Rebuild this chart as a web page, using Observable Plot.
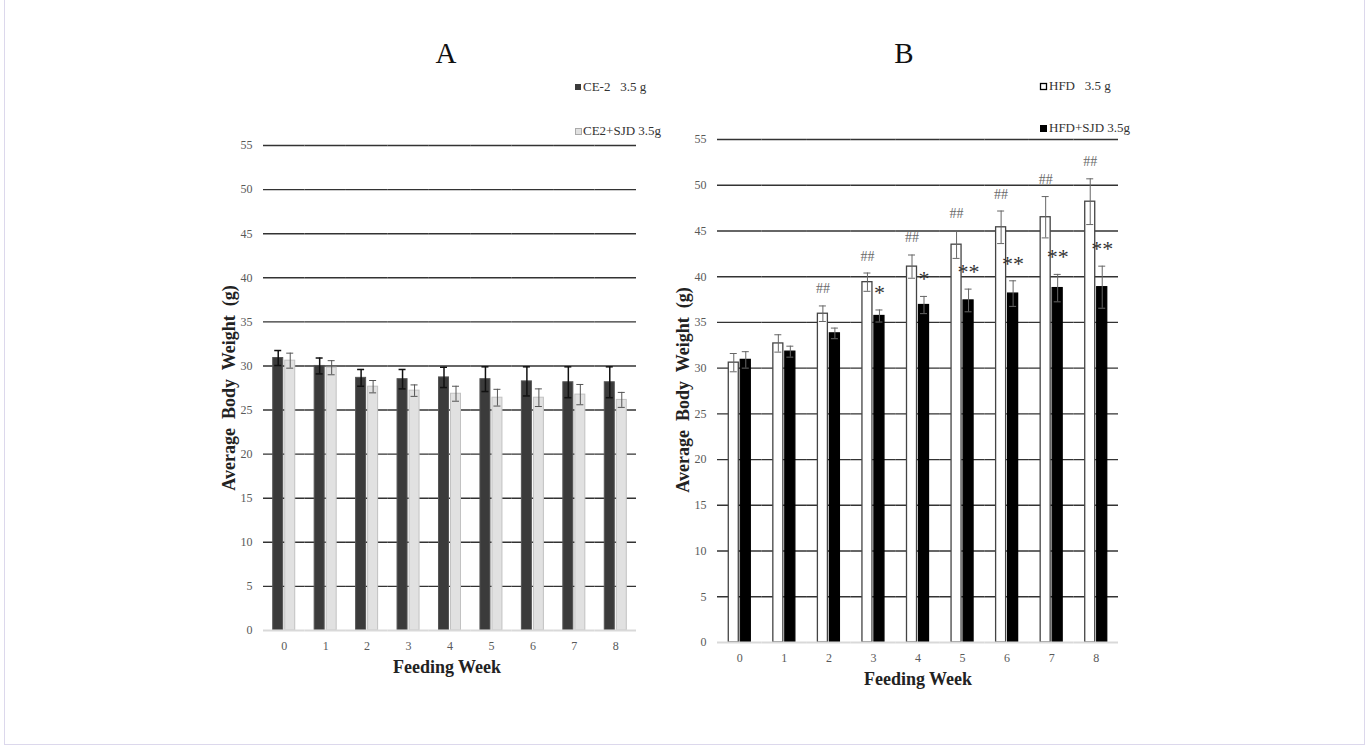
<!DOCTYPE html>
<html>
<head>
<meta charset="utf-8">
<script src="https://cdn.jsdelivr.net/npm/d3@7"></script>
<script src="https://cdn.jsdelivr.net/npm/@observablehq/plot@0.6"></script>
<style>
  html, body { margin: 0; padding: 0; background: #fff; }
  #wrap { position: relative; width: 1370px; height: 753px; overflow: hidden; font-family: "Liberation Serif", "Times New Roman", serif; }
  #wrap > svg, #wrap > figure { position: absolute; margin: 0; }
  #frame { position: absolute; left: 4px; top: -1px; width: 1361px; height: 746px; border: 1px solid #dcd8ec; box-sizing: border-box; }
  .pre { white-space: pre; }
</style>
</head>
<body>
<div id="wrap"><div id="frame"></div></div>
<script>
// ---------- data ----------
const weeks = [0, 1, 2, 3, 4, 5, 6, 7, 8];
const yTicks = [0, 5, 10, 15, 20, 25, 30, 35, 40, 45, 50, 55];

// Panel A
const seriesA = ["CE-2   3.5 g", "CE2+SJD 3.5g"];
const ce2Mean = [30.9, 30.0, 28.65, 28.5, 28.7, 28.5, 28.25, 28.15, 28.15];
const ce2Sd = [0.85, 0.9, 0.95, 1.1, 1.15, 1.4, 1.65, 1.75, 1.75];
const ce2sjdMean = [30.6, 29.8, 27.65, 27.2, 26.85, 26.4, 26.4, 26.75, 26.15];
const ce2sjdSd = [0.85, 0.8, 0.7, 0.65, 0.85, 0.95, 1.0, 1.15, 0.85];

// Panel B
const seriesB = ["HFD   3.5 g", "HFD+SJD 3.5g"];
const hfdMean = [30.6, 32.7, 35.95, 39.4, 41.1, 43.5, 45.4, 46.5, 48.2];
const hfdSd = [1.0, 0.95, 0.85, 1.0, 1.27, 1.5, 1.78, 2.26, 2.5];
const hfdsjdMean = [30.9, 31.8, 33.8, 35.7, 36.9, 37.4, 38.15, 38.75, 38.85];
const hfdsjdSd = [0.9, 0.6, 0.58, 0.66, 0.94, 1.24, 1.4, 1.5, 2.3];
const hashMarks = ["", "", "##", "##", "##", "##", "##", "##", "##"];
const starMarks = ["", "", "", "*", "*", "**", "**", "**", "**"];

// ---------- helpers ----------
function rows(groups, means, sds) {
  const out = [];
  weeks.forEach((w, i) => {
    out.push({week: w, group: groups[0], mean: means[0][i], sd: sds[0][i], s: 0});
    out.push({week: w, group: groups[1], mean: means[1][i], sd: sds[1][i], s: 1});
  });
  return out;
}

const serif = "Liberation Serif, Times New Roman, serif";

function panel(cfg) {
  const data = cfg.data;
  return Plot.plot({
    width: cfg.width, height: cfg.height,
    marginLeft: cfg.mL, marginRight: cfg.mR, marginTop: cfg.mT, marginBottom: cfg.mB,
    style: {fontFamily: serif, fontSize: "12px", color: "#595959", background: "transparent", overflow: "visible"},
    fx: {domain: weeks, padding: 0, round: false, label: null, axis: "bottom", tickSize: 0, tickPadding: 11},
    x: {domain: cfg.groups, paddingInner: 1 / 6, paddingOuter: cfg.pOuter, round: false, axis: null},
    y: {domain: [0, 55], ticks: yTicks, tickSize: 0, tickPadding: 11, label: null},
    marks: [
      Plot.ruleY(yTicks.filter(t => t > 0), {stroke: "#333", strokeWidth: 1.4}),
      Plot.barY(data, {fx: "week", x: "group", y: "mean",
        fill: d => cfg.fills[d.s], stroke: d => cfg.strokes[d.s], strokeWidth: cfg.barStrokeWidth}),
      Plot.ruleY([0], {stroke: "#d9d9d9", strokeWidth: 2}),
      Plot.ruleX(data, {fx: "week", x: "group", y1: d => d.mean - d.sd, y2: d => d.mean + d.sd,
        stroke: d => cfg.errColors[d.s], strokeWidth: d => cfg.errWidths[d.s]}),
      Plot.tickY(data, {fx: "week", x: "group", y: d => d.mean + d.sd, insetLeft: 1.5, insetRight: 1.5,
        stroke: d => cfg.errColors[d.s], strokeWidth: d => cfg.errWidths[d.s]}),
      Plot.tickY(data, {fx: "week", x: "group", y: d => d.mean - d.sd, insetLeft: 1.5, insetRight: 1.5,
        stroke: d => cfg.errColors[d.s], strokeWidth: d => cfg.errWidths[d.s]}),
      ...(cfg.extra || [])
    ]
  });
}

const wrap = document.getElementById("wrap");

// Panel A
const dataA = rows(seriesA, [ce2Mean, ce2sjdMean], [ce2Sd, ce2sjdSd]);
const plotA = panel({
  data: dataA, groups: seriesA,
  width: 480, height: 700, mL: 93, mR: 14, mT: 145, mB: 70, pOuter: 0.81,
  fills: ["#3b3b3b", "#e1e1e1"], strokes: ["#555", "#c2c2c2"], barStrokeWidth: 1,
  errColors: ["#111", "#555"], errWidths: [1.5, 1]
});
plotA.style.left = "170px"; plotA.style.top = "0px";
wrap.appendChild(plotA);

// Panel B
const dataB = rows(seriesB, [hfdMean, hfdsjdMean], [hfdSd, hfdsjdSd]);
const annB = weeks.map((w, i) => ({week: w, hfdTop: hfdMean[i] + hfdSd[i], sjdTop: hfdsjdMean[i] + hfdsjdSd[i], hash: hashMarks[i], star: starMarks[i]}));
const plotB = panel({
  data: dataB, groups: seriesB,
  width: 520, height: 700, mL: 97, mR: 22, mT: 139, mB: 58, pOuter: 0.94,
  fills: ["#ffffff", "#000000"], strokes: ["#444", "#000"], barStrokeWidth: 1.3,
  errColors: ["#666", "#666"], errWidths: [1, 1],
  extra: [
    Plot.text(annB.filter(d => d.hash), {fx: "week", x: () => seriesB[0], y: "hfdTop", text: "hash",
      dy: -17, fontSize: 14, fill: "#6a6a6a", lineAnchor: "middle"}),
    Plot.text(annB.filter(d => d.star), {fx: "week", x: () => seriesB[1], y: "sjdTop", text: "star",
      dy: -17, fontSize: 22, fill: "#333", lineAnchor: "middle"})
  ]
});
plotB.style.left = "620px"; plotB.style.top = "0px";
wrap.appendChild(plotB);

// ---------- titles, legends, axis titles ----------
const ov = d3.select(wrap).append("svg")
  .attr("width", 1370).attr("height", 753)
  .style("left", "0px").style("top", "0px")
  .style("font-family", serif);

function txt(x, y, size, str, opts = {}) {
  const t = ov.append("text")
    .attr("xml:space", "preserve")
    .attr("class", "pre")
    .attr("font-size", size)
    .attr("fill", opts.fill || "#333")
    .attr("text-anchor", opts.anchor || "start")
    .attr("font-weight", opts.bold ? "bold" : null)
    .text(str);
  if (opts.rotate) t.attr("transform", `translate(${x},${y}) rotate(-90)`);
  else t.attr("x", x).attr("y", y);
  return t;
}

txt(446, 63, 29, "A", {anchor: "middle", fill: "#111"});
txt(904, 63, 29, "B", {anchor: "middle", fill: "#111"});

// legend A
ov.append("rect").attr("x", 575).attr("y", 84).attr("width", 6).attr("height", 6).attr("fill", "#3b3b3b");
txt(583, 91, 13, seriesA[0]);
ov.append("rect").attr("x", 575.5).attr("y", 128.5).attr("width", 6).attr("height", 6).attr("fill", "#e1e1e1").attr("stroke", "#aaa");
txt(583, 135, 13, seriesA[1]);

// legend B
ov.append("rect").attr("x", 1040.5).attr("y", 83.5).attr("width", 6).attr("height", 6).attr("fill", "#fff").attr("stroke", "#000").attr("stroke-width", 1.3);
txt(1049, 90, 13, seriesB[0]);
ov.append("rect").attr("x", 1040).attr("y", 125).attr("width", 7).attr("height", 7).attr("fill", "#000");
txt(1049, 132, 13, seriesB[1]);

// axis titles
txt(447, 673, 18, "Feeding Week", {anchor: "middle", bold: true, fill: "#222"});
txt(918, 685, 18, "Feeding Week", {anchor: "middle", bold: true, fill: "#222"});
txt(235, 388, 18, "Average  Body  Weight  (g)", {anchor: "middle", bold: true, fill: "#222", rotate: true});
txt(689, 390, 18, "Average  Body  Weight  (g)", {anchor: "middle", bold: true, fill: "#222", rotate: true});
</script>
</body>
</html>
